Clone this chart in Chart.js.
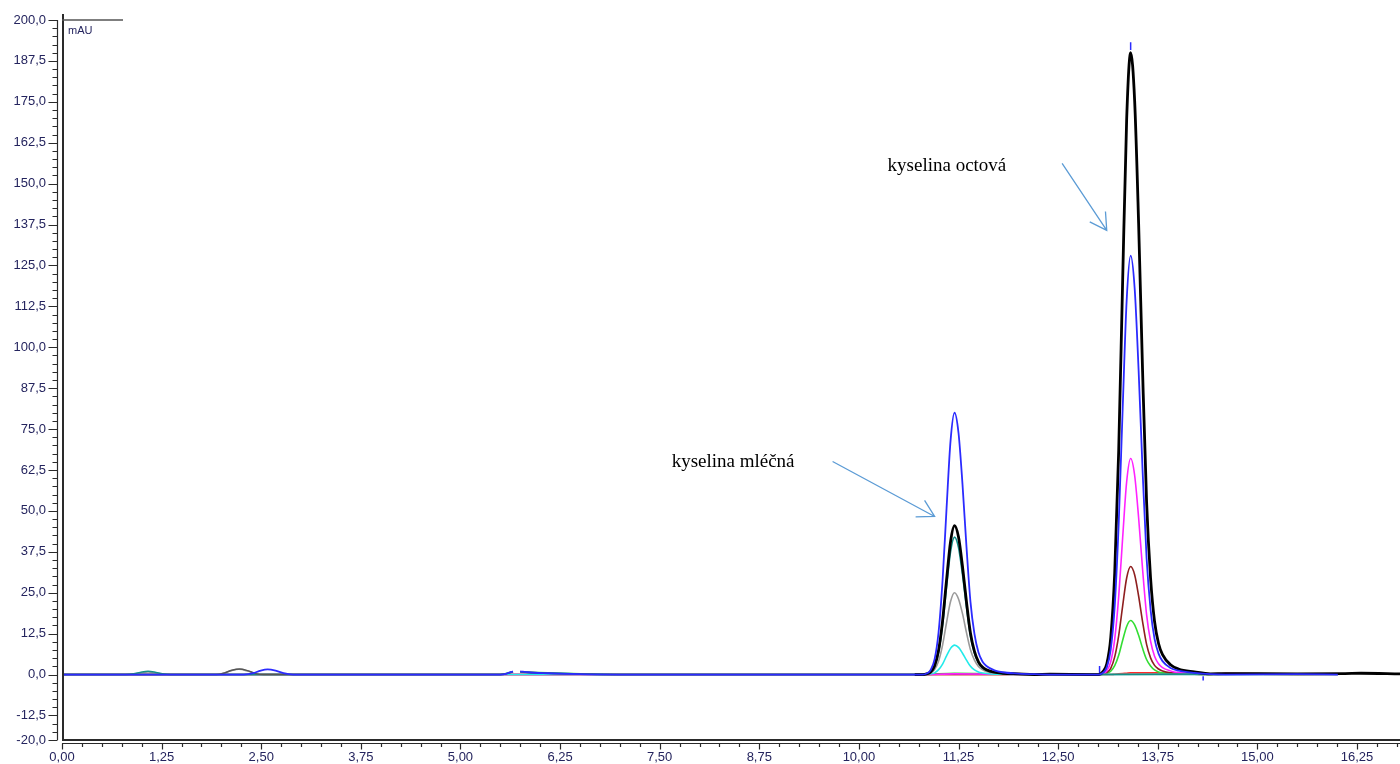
<!DOCTYPE html>
<html>
<head>
<meta charset="utf-8">
<script src="https://cdn.jsdelivr.net/npm/chart.js@4.4.1/dist/chart.umd.min.js"></script>
<style>
html,body{margin:0;padding:0;background:#fff;overflow:hidden}
canvas{display:block}
</style>
</head>
<body>
<canvas id="c" width="1400" height="764"></canvas>
<script>
// ---- tick labels ----
const xTicks = [0,1.25,2.5,3.75,5,6.25,7.5,8.75,10,11.25,12.5,13.75,15,16.25];
const yTicks = [-20,-12.5,0,12.5,25,37.5,50,62.5,75,87.5,100,112.5,125,137.5,150,162.5,175,187.5,200];
const xRange = [0, 16.79];
const yRange = [-20, 200];

// ---- peak sampling times (min) ----
const lacticTime = [10.80,10.85,10.90,10.95,11.00,11.05,11.10,11.15,11.20,11.25,11.30,11.35,11.40,11.45,11.50,11.55,11.60,11.70,11.80,12.00,12.20];
const aceticTime = [13.01,13.06,13.11,13.16,13.21,13.26,13.31,13.36,13.41,13.46,13.51,13.56,13.61,13.66,13.71,13.76,13.81,13.91,14.01,14.21,14.41];

// ---- peak values (mAU) ----
const blueLactic    = [0,0.3,1.4,4.7,13.0,28.8,50.8,71.4,80,73.8,58.1,39.0,22.2,12.4,6.8,4.0,2.6,1.3,0.7,0.3,0.1];
const blueAcetic    = [0,0.5,2.2,7.6,20.9,46.1,81.3,114.3,128,118.1,92.9,62.3,35.6,19.8,10.9,6.4,4.1,2.0,1.2,0.5,0.1];
const blackLactic   = [0,0.2,0.8,2.7,7.4,16.4,28.9,40.6,45.5,42.0,33.0,22.2,12.6,7.1,3.9,2.3,1.5,0.7,0.4,0.2,0];
const blackAcetic   = [0,0.8,3.2,11.2,31.0,68.4,120.7,169.7,190,175.4,137.9,92.5,52.8,29.5,16.2,9.5,6.1,3.0,1.7,0.8,0.2];
const tealLactic    = [0,0.2,0.7,2.5,6.8,15.1,26.7,37.5,42,38.8,30.5,20.5,11.7,6.5,3.6,2.1,1.3,0.7,0.4,0.2,0];
const grayLactic    = [0,0.1,0.4,1.5,4.1,9.0,15.9,22.3,25,23.1,18.6,12.8,7.6,4.4,2.5,1.5,0.9,0.5,0.3,0.1,0];
const cyanLactic    = [0,0,0.2,0.5,1.5,3.2,5.7,8.0,9,8.3,6.5,4.4,2.5,1.4,0.8,0.5,0.3,0.1,0.1,0,0];
const magentaAcetic = [0,0.3,1.1,3.9,10.8,23.8,41.9,58.9,66,60.9,47.9,32.1,18.3,10.2,5.6,3.3,2.1,1.1,0.6,0.3,0.1];
const brownAcetic   = [0,0.1,0.6,1.9,5.4,11.9,21.0,29.5,33,30.5,24.0,16.1,9.2,5.1,2.8,1.7,1.1,0.5,0.3,0.1,0];
const greenAcetic   = [0,0.1,0.3,1.0,2.7,5.9,10.5,14.7,16.5,15.2,12.0,8.0,4.6,2.6,1.4,0.8,0.5,0.3,0.1,0.1,0];
const redAcetic     = [0,0,0,0,0.1,0.2,0.3,0.4,0.5,0.5,0.5,0.5,0.5,0.5,0.5,0.5,0.5,0.5,0.4,0.3,0.1];

// ---- baseline parts [time, mAU] (null = gap) ----
const blueBase    = [[0,0],[2.28,0],[2.40,0.4],[2.48,1.1],[2.58,1.6],[2.68,1.2],[2.78,0.4],[2.90,0],[5.50,0],[5.58,0.3],[5.64,0.8],[5.66,0.9],[5.70,null],[5.75,1.0],[5.85,0.7],[6.10,0.4],[6.50,0.1],[7.00,0],[10.70,0],[12.40,0],[12.90,0],[14.60,0],[15.50,0.1],[16.01,0]];
const blackBase   = [[0,0],[1.93,0],[2.03,0.4],[2.13,1.3],[2.23,1.7],[2.33,1.2],[2.43,0.3],[2.53,0],[2.70,0],[5.50,0],[5.58,0.3],[5.64,0.7],[5.66,0.8],[5.70,null],[5.75,0.9],[5.85,0.7],[6.10,0.4],[6.50,0.2],[7.00,0],[10.70,0],[12.40,0.1],[12.90,0],[14.60,0.3],[15.50,0.2],[16.10,0.3],[16.30,0.4],[16.79,0.2]];
const tealBase    = [[0,0],[0.80,0],[0.90,0.25],[0.98,0.65],[1.08,1.0],[1.18,0.65],[1.26,0.25],[1.36,0],[5.50,0],[5.58,0.3],[5.64,0.8],[5.66,0.9],[5.70,null],[5.75,0.8],[5.85,0.6],[6.10,0.4],[6.50,0.2],[7.00,0],[10.70,0],[12.40,0],[13.00,0],[14.60,0.2],[15.70,0.2],[16.01,0.1]];
const grayBase    = [[0,0],[0.85,0],[0.95,0.2],[1.08,0.8],[1.20,0.2],[1.32,0],[1.95,0],[2.10,1.0],[2.22,1.6],[2.34,1.0],[2.48,0],[5.50,0],[5.58,0.3],[5.64,0.6],[5.70,null],[5.75,0.7],[6.00,0.4],[6.50,0.1],[7.00,0],[10.70,0],[12.40,0],[16.01,0.1]];
const cyanBase    = [[0,0],[10.70,0],[12.40,0],[16.01,0]];
const magentaBase = [[0,0],[10.80,0],[11.20,0.2],[12.40,0],[12.90,0],[14.60,0.3],[16.01,0.1]];
const brownBase   = [[0,0],[10.80,0],[12.90,0],[14.60,0.3],[16.01,0.1]];
const greenBase   = [[0,0],[5.50,0],[5.64,0.6],[5.70,null],[5.75,0.8],[6.10,0.5],[7.00,0],[10.80,0],[11.20,0.4],[12.20,0.1],[12.90,0],[14.60,0.3],[16.01,0.1]];
const redBase     = [[0,0],[12.90,0],[14.60,0.1],[16.01,0]];

// integration markers [t1, v1, t2, v2]
const markerSegments = [[13.02,0,13.02,2.6],[14.32,-0.5,14.32,-1.8],[13.41,190.8,13.41,193.2]];

// annotations
const annotationTexts = [
  {text:'kyselina mléčná', x:7.65, y:64.8},
  {text:'kyselina octová', x:10.36, y:155.4}
];
const annotationArrows = [
  {x1:9.67, y1:65.1, x2:10.95, y2:48.3},
  {x1:12.55, y1:156.2, x2:13.11, y2:135.7}
];

// ---- build ----
function build(base, parts){
  const pts = base.map(p => ({x:p[0], y:p[1]}));
  parts.forEach(([times, vals]) => times.forEach((t,i) => pts.push({x:t, y:vals[i]})));
  pts.sort((a,b) => a.x - b.x);
  return pts;
}
function ds(label, color, width, data, extra){
  return Object.assign({label, data, borderColor:color, borderWidth:width, pointRadius:0, fill:false,
          cubicInterpolationMode:'monotone', spanGaps:false}, extra || {});
}
const markerData = [];
markerSegments.forEach(s => { markerData.push({x:s[0],y:s[1]},{x:s[2],y:s[3]},{x:s[2]+0.001,y:null}); });

const datasets = [
  ds('blue',   '#2b2bff', 1.8, build(blueBase,   [[lacticTime,blueLactic],[aceticTime,blueAcetic]])),
  ds('black',  '#000000', 2.8, build(blackBase,  [[lacticTime,blackLactic],[aceticTime,blackAcetic]]),
     {segment:{borderWidth: c => (c.p0.parsed.x < 10 ? 1.4 : undefined),
               borderColor: c => (c.p0.parsed.x < 10 ? '#555555' : undefined)}}),
  ds('teal',   '#138f88', 1.6, build(tealBase,   [[lacticTime,tealLactic]])),
  ds('gray',   '#9a9a9a', 1.6, build(grayBase,   [[lacticTime,grayLactic]])),
  ds('cyan',   '#22eaea', 1.6, build(cyanBase,   [[lacticTime,cyanLactic]])),
  ds('magenta','#ff22ff', 1.6, build(magentaBase,[[aceticTime,magentaAcetic]])),
  ds('brown',  '#8e1f1f', 1.6, build(brownBase,  [[aceticTime,brownAcetic]])),
  ds('green',  '#33dd33', 1.6, build(greenBase,  [[aceticTime,greenAcetic]])),
  ds('red',    '#ff2a2a', 1.6, build(redBase,    [[aceticTime,redAcetic]])),
  {label:'markers', data:markerData, borderColor:'#2b2bff', borderWidth:1.5, pointRadius:0, spanGaps:false, tension:0}
];

const fmt = (v, d) => v.toFixed(d).replace('.', ',');
const LABEL_COLOR = '#24245e';

const framePlugin = {
  id:'frame',
  afterDraw(chart){
    const {ctx, chartArea:a, scales:{x, y}} = chart;
    ctx.save();
    ctx.strokeStyle = '#2a2a2a';
    ctx.lineWidth = 2;
    ctx.beginPath(); ctx.moveTo(a.left+1, a.top-6); ctx.lineTo(a.left+1, a.bottom); ctx.stroke();
    ctx.beginPath(); ctx.moveTo(a.left, a.bottom); ctx.lineTo(a.right, a.bottom); ctx.stroke();
    ctx.lineWidth = 1.2;
    const rx = a.left - 4.5;
    ctx.beginPath();
    ctx.moveTo(rx, y.getPixelForValue(yRange[1])); ctx.lineTo(rx, y.getPixelForValue(yRange[0]));
    for (let k = 0; k <= 88; k++){
      const v = yRange[0] + k*2.5;
      const py = Math.round(y.getPixelForValue(v)) + 0.5;
      const major = yTicks.some(t => Math.abs(t - v) < 1e-6);
      ctx.moveTo(rx - (major ? 9 : 5), py); ctx.lineTo(rx, py);
    }
    ctx.stroke();
    const ry = a.bottom + 3.5;
    ctx.beginPath();
    ctx.moveTo(a.left, ry); ctx.lineTo(a.right, ry);
    for (let k = 0; k * 0.25 <= xRange[1]; k++){
      const v = k*0.25;
      const px = Math.round(x.getPixelForValue(v)) + 0.5;
      const major = k % 5 === 0;
      ctx.moveTo(px, ry); ctx.lineTo(px, ry + (major ? 6 : 3.5));
    }
    ctx.stroke();
    ctx.strokeStyle = '#555';
    ctx.lineWidth = 1.5;
    ctx.beginPath(); ctx.moveTo(a.left, a.top); ctx.lineTo(a.left+61, a.top); ctx.stroke();
    ctx.fillStyle = LABEL_COLOR;
    ctx.font = '11px "Liberation Sans", Arial, sans-serif';
    ctx.textBaseline = 'middle';
    ctx.textAlign = 'left';
    ctx.fillText('mAU', a.left+6, a.top+11);

    ctx.fillStyle = '#000';
    ctx.font = '19px "Liberation Serif", "Times New Roman", serif';
    annotationTexts.forEach(t => ctx.fillText(t.text, x.getPixelForValue(t.x), y.getPixelForValue(t.y)));
    ctx.strokeStyle = '#5b9bd5';
    ctx.lineWidth = 1.3;
    annotationArrows.forEach(ar => {
      const x1 = x.getPixelForValue(ar.x1), y1 = y.getPixelForValue(ar.y1);
      const x2 = x.getPixelForValue(ar.x2), y2 = y.getPixelForValue(ar.y2);
      const ang = Math.atan2(y2 - y1, x2 - x1);
      const L = 19, s = 0.52;
      ctx.beginPath();
      ctx.moveTo(x1, y1); ctx.lineTo(x2, y2);
      ctx.moveTo(x2 - L*Math.cos(ang - s), y2 - L*Math.sin(ang - s)); ctx.lineTo(x2, y2);
      ctx.lineTo(x2 - L*Math.cos(ang + s), y2 - L*Math.sin(ang + s));
      ctx.stroke();
    });
    ctx.restore();
  }
};

Chart.defaults.font.family = '"Liberation Sans", Arial, sans-serif';

new Chart(document.getElementById('c'), {
  type:'line',
  data:{datasets},
  options:{
    responsive:false, animation:false, devicePixelRatio:1, events:[],
    layout:{padding:{top:20, right:0, bottom:0, left:0}},
    plugins:{legend:{display:false}, tooltip:{enabled:false}},
    scales:{
      x:{type:'linear', min:xRange[0], max:xRange[1],
         border:{display:false},
         grid:{drawOnChartArea:false, drawTicks:true, tickLength:9, color:'rgba(0,0,0,0)'},
         afterBuildTicks: s => { s.ticks = xTicks.map(v => ({value:v})); },
         afterFit: s => { s.height = 24; },
         ticks:{autoSkip:false, maxRotation:0, padding:1, color:LABEL_COLOR, font:{size:13},
                callback: v => fmt(v, 2)}},
      y:{type:'linear', min:yRange[0], max:yRange[1],
         border:{display:false},
         grid:{drawOnChartArea:false, drawTicks:true, tickLength:12, color:'rgba(0,0,0,0)'},
         afterBuildTicks: s => { s.ticks = yTicks.map(v => ({value:v})); },
         afterFit: s => { s.width = 62; },
         ticks:{autoSkip:false, padding:4, color:LABEL_COLOR, font:{size:13},
                callback: v => fmt(v, 1)}}
    }
  },
  plugins:[framePlugin]
});
</script>
</body>
</html>
